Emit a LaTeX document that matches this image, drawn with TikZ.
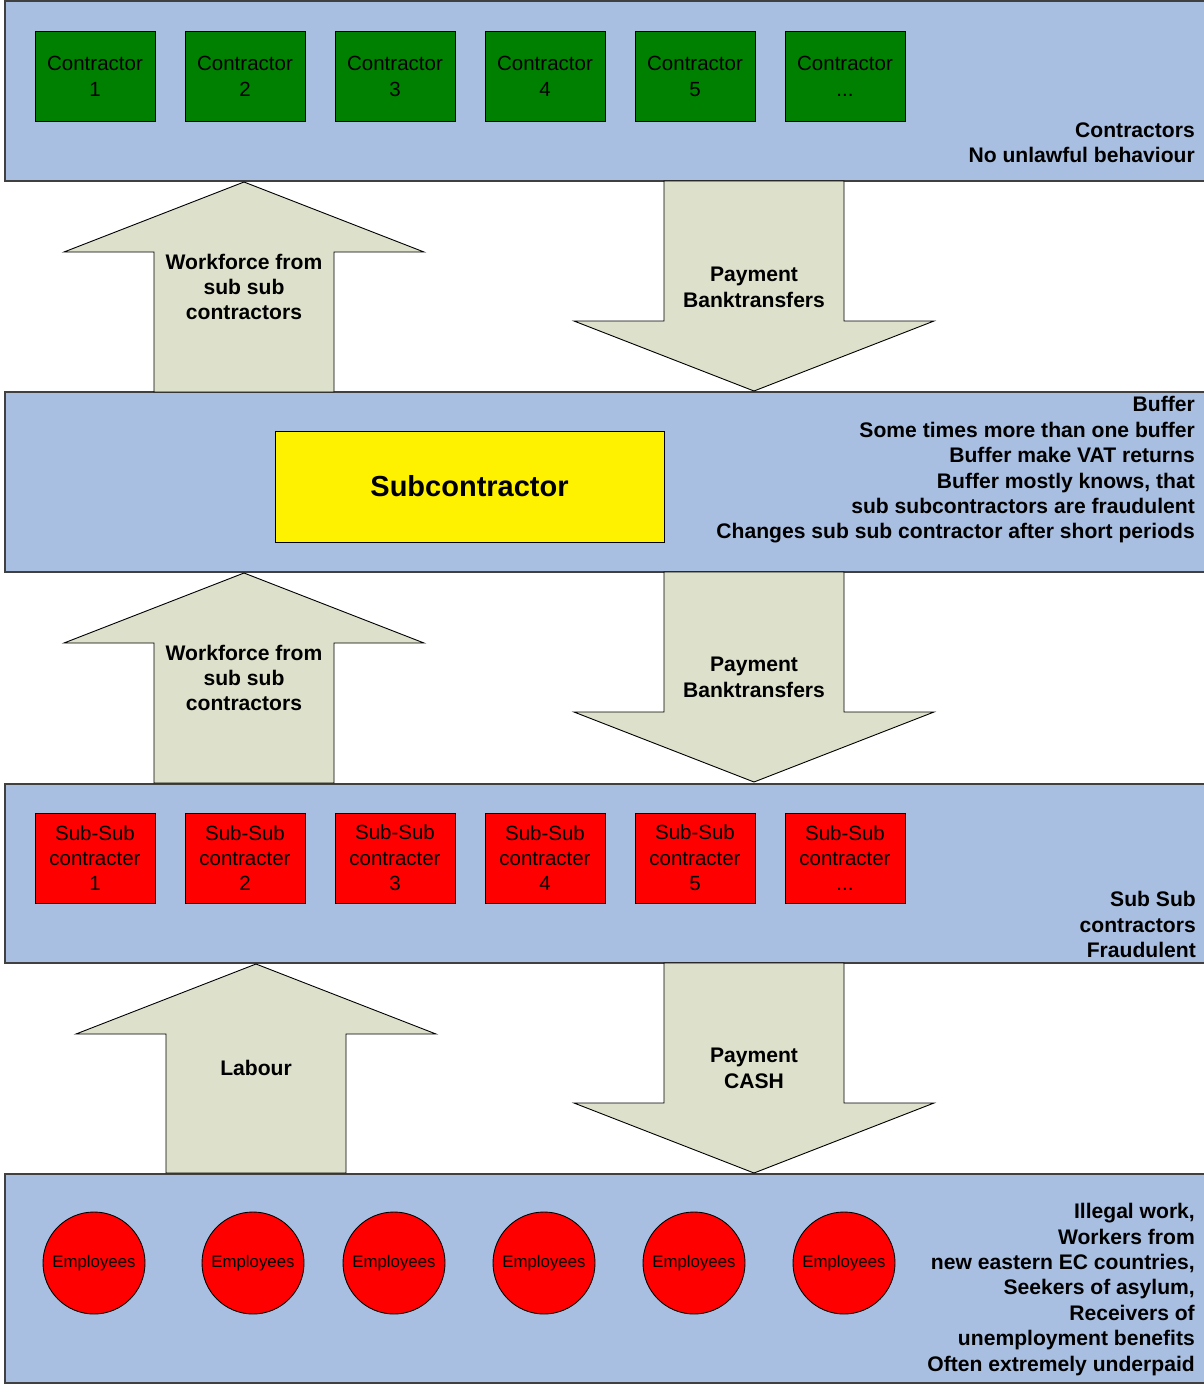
\documentclass[tikz,border=0pt]{standalone}
\usepackage{fontspec}
\setmainfont{Liberation Sans}
\definecolor{bandblue}{HTML}{A9BFE1}
\definecolor{arrowfill}{HTML}{DDE1CB}
\definecolor{contractgreen}{HTML}{008000}
\newcommand\boxfont{\fontsize{20.5}{25.4}\selectfont}
\newcommand\notefont{\fontsize{21.1}{25.4}\selectfont\bfseries}
\newcommand\empfont{\fontsize{16.8}{20}\selectfont}
% block arrows: centre x, tip y, far end y
\newcommand\uparrowshape[3]{%
  \draw[blockarrow] (#1,#2) -- (#1+180,#2+70) -- (#1+90,#2+70) -- (#1+90,#3)
    -- (#1-90,#3) -- (#1-90,#2+70) -- (#1-180,#2+70) -- cycle;}
\newcommand\downarrowshape[3]{%
  \draw[blockarrow] (#1,#2) -- (#1+180,#2-70) -- (#1+90,#2-70) -- (#1+90,#3)
    -- (#1-90,#3) -- (#1-90,#2-70) -- (#1-180,#2-70) -- cycle;}
\begin{document}
\begin{tikzpicture}[x=1pt,y=-1pt,
  band/.style={draw=black!75,line width=1.2pt,fill=bandblue},
  blockarrow/.style={draw=black,line width=0.9pt,fill=arrowfill,line join=miter},
  contractorbox/.style={draw=black,line width=0.9pt,fill=contractgreen,minimum width=120pt,
    minimum height=90pt,inner sep=0pt,align=center,font=\boxfont},
  subsubbox/.style={contractorbox,fill=red},
  employee/.style={circle,draw=black,line width=0.9pt,fill=red,minimum size=102pt,
    inner sep=0pt,font=\empfont},
  note/.style={align=right,anchor=east,inner sep=0pt,font=\notefont},
  arrowtext/.style={align=center,inner sep=0pt,font=\notefont}]
\useasboundingbox (0,0) rectangle (1204,1385);
\fill[white] (0,0) rectangle (1204,1385);
\begin{scope}
\clip (0,0) rectangle (1204,1385);
% layers
\draw[band] (5,1) rectangle (1220,181);
\draw[band] (5,392) rectangle (1220,572);
\draw[band] (5,784) rectangle (1220,963);
\draw[band] (5,1174) rectangle (1220,1383);
\end{scope}

% flows between the layers
\uparrowshape{244}{182}{392}
\downarrowshape{754}{391}{181}
\uparrowshape{244}{573}{783}
\downarrowshape{754}{782}{572}
\uparrowshape{256}{964}{1173}
\downarrowshape{754}{1173}{963}

\node[arrowtext] (wf1) at (244,287) {Workforce from\\sub sub\\contractors};
\node[arrowtext] (pay1) at (754,287.5) {Payment\\Banktransfers};
\node[arrowtext] (wf2) at (244,678) {Workforce from\\sub sub\\contractors};
\node[arrowtext] (pay2) at (754,677.5) {Payment\\Banktransfers};
\node[arrowtext] (lab) at (256,1068) {Labour};
\node[arrowtext] (pay3) at (754,1068.5) {Payment\\CASH};

% contractors
\node[contractorbox] (c1) at (95,76.5) {Contractor\\1};
\node[contractorbox] (c2) at (245,76.5) {Contractor\\2};
\node[contractorbox] (c3) at (395,76.5) {Contractor\\3};
\node[contractorbox] (c4) at (545,76.5) {Contractor\\4};
\node[contractorbox] (c5) at (695,76.5) {Contractor\\5};
\node[contractorbox] (c6) at (845,76.5) {Contractor\\...};
\node[note] (n1) at (1195,143) {Contractors\\No unlawful behaviour};

% subcontractor
\node[draw=black,line width=0.9pt,fill=yellow,minimum width=389pt,minimum height=111pt,
  font=\fontsize{29}{34}\selectfont\bfseries] (sub) at (469.5,486.5) {Subcontractor};
\node[note] (n2) at (1195,470) {Buffer\\Some times more than one buffer\\Buffer make VAT returns\\
  Buffer mostly knows, that\\sub subcontractors are fraudulent\\Changes sub sub contractor after short periods};

% sub sub contractors
\node[subsubbox] (s1) at (95,858) {Sub-Sub\\contracter\\1};
\node[subsubbox] (s2) at (245,858) {Sub-Sub\\contracter\\2};
\node[subsubbox] (s3) at (395,858) {Sub-Sub\\contracter\\3};
\node[subsubbox] (s4) at (545,858) {Sub-Sub\\contracter\\4};
\node[subsubbox] (s5) at (695,858) {Sub-Sub\\contracter\\5};
\node[subsubbox] (s6) at (845,858) {Sub-Sub\\contracter\\...};
\node[note] (n3) at (1196,924.5) {Sub Sub\\contractors\\Fraudulent};

% employees
\node[employee] (e1) at (94,1263) {Employees};
\node[employee] (e2) at (253,1263) {Employees};
\node[employee] (e3) at (394,1263) {Employees};
\node[employee] (e4) at (544,1263) {Employees};
\node[employee] (e5) at (694,1263) {Employees};
\node[employee] (e6) at (844,1263) {Employees};
\node[note] (n4) at (1195,1289.5) {Illegal work,\\Workers from\\new eastern EC countries,\\Seekers of asylum,\\
  Receivers of\\unemployment benefits\\Often extremely underpaid};
\end{tikzpicture}
\end{document}
